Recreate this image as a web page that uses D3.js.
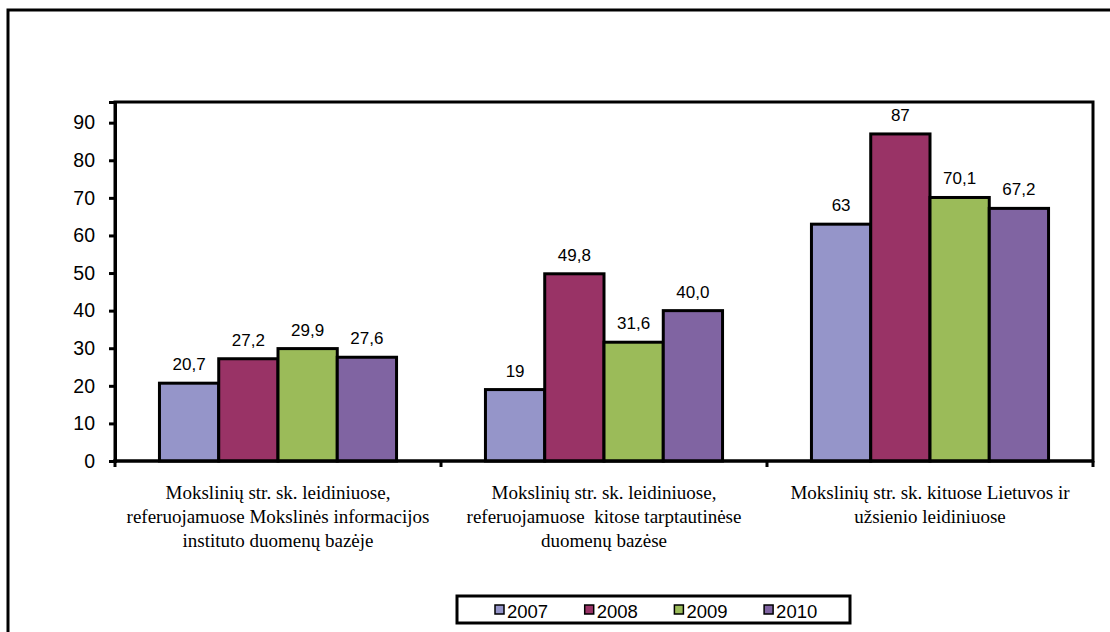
<!DOCTYPE html>
<html><head><meta charset="utf-8">
<script src="https://cdn.jsdelivr.net/npm/d3@7"></script>
<style>html,body{margin:0;padding:0;background:#fff;}svg{display:block;}</style>
</head><body>
<script>
const categories = [
  ["Mokslinių str. sk. leidiniuose,", "referuojamuose Mokslinės informacijos", "instituto duomenų bazėje"],
  ["Mokslinių str. sk. leidiniuose,", "referuojamuose  kitose tarptautinėse", "duomenų bazėse"],
  ["Mokslinių str. sk. kituose Lietuvos ir", "užsienio leidiniuose"]
];
const series = ["2007", "2008", "2009", "2010"];
const values2007 = [20.7, 19, 63];
const values2008 = [27.2, 49.8, 87];
const values2009 = [29.9, 31.6, 70.1];
const values2010 = [27.6, 40.0, 67.2];
const labels2007 = ["20,7", "19", "63"];
const labels2008 = ["27,2", "49,8", "87"];
const labels2009 = ["29,9", "31,6", "70,1"];
const labels2010 = ["27,6", "40,0", "67,2"];
const yTicks = [0, 10, 20, 30, 40, 50, 60, 70, 80, 90];
const colors = ["#9595C9", "#993366", "#9BBB59", "#8064A2"];

const W = 1110, H = 632;
const plot = {left: 115, right: 1093, top: 102, bottom: 461};
const svg = d3.select("body").append("svg").attr("width", W).attr("height", H);

// outer frame
svg.append("path").attr("d", `M8,${H} L8,10 L${W},10`).attr("fill", "none")
  .attr("stroke", "#000").attr("stroke-width", 3);

const x0 = d3.scaleBand().domain(d3.range(categories.length)).range([plot.left, plot.right]).paddingInner(0).paddingOuter(0);
const x1 = d3.scaleBand().domain(series).range([0, x0.bandwidth()]).paddingInner(0).paddingOuter(0.75);
const y = d3.scaleLinear().domain([0, 95.5]).range([plot.bottom, plot.top]);

// plot area frame
svg.append("rect").attr("x", plot.left).attr("y", plot.top)
  .attr("width", plot.right - plot.left).attr("height", plot.bottom - plot.top)
  .attr("fill", "#fff").attr("stroke", "#000").attr("stroke-width", 3);

const allVals = [values2007, values2008, values2009, values2010];
const allLabels = [labels2007, labels2008, labels2009, labels2010];

series.forEach((s, si) => {
  const g = svg.append("g");
  g.selectAll("rect").data(allVals[si]).enter().append("rect")
    .attr("x", (d, i) => x0(i) + x1(s))
    .attr("y", d => y(d))
    .attr("width", x1.bandwidth())
    .attr("height", d => y(0) - y(d))
    .attr("fill", colors[si]).attr("stroke", "#000").attr("stroke-width", 3);
  g.selectAll("text").data(allVals[si]).enter().append("text")
    .attr("x", (d, i) => x0(i) + x1(s) + x1.bandwidth() / 2)
    .attr("y", d => y(d) - 13)
    .attr("text-anchor", "middle")
    .attr("font-family", "Liberation Sans, Arial, sans-serif").attr("font-size", 17)
    .text((d, i) => allLabels[si][i]);
});

// Y axis
const yAxis = d3.axisLeft(y).tickValues(yTicks).tickSize(6).tickPadding(14).tickFormat(d3.format("d"));
const ya = svg.append("g").attr("transform", `translate(${plot.left},0)`).call(yAxis);
ya.select(".domain").attr("stroke", "#000").attr("stroke-width", 3);
ya.selectAll(".tick line").attr("stroke", "#000").attr("stroke-width", 3);
ya.selectAll(".tick text").attr("font-family", "Liberation Sans, Arial, sans-serif").attr("font-size", 19.5).attr("fill", "#000");

// X axis boundary ticks
const bounds = d3.range(categories.length + 1).map(i => i < categories.length ? x0(i) : plot.right);
svg.append("g").selectAll("line").data(bounds).enter().append("line")
  .attr("x1", d => d).attr("x2", d => d).attr("y1", plot.bottom).attr("y2", plot.bottom + 6)
  .attr("stroke", "#000").attr("stroke-width", 3);
svg.append("line").attr("x1", plot.left - 2).attr("x2", plot.right + 1).attr("y1", plot.bottom).attr("y2", plot.bottom)
  .attr("stroke", "#000").attr("stroke-width", 3);

// category labels
categories.forEach((lines, i) => {
  const t = svg.append("text").attr("text-anchor", "middle")
    .attr("font-family", "Liberation Serif, Times New Roman, serif").attr("font-size", 19);
  lines.forEach((ln, li) => {
    t.append("tspan").attr("x", x0(i) + x0.bandwidth() / 2).attr("y", 499 + li * 24)
      .attr("xml:space", "preserve").style("white-space", "pre").text(ln);
  });
});

// legend
const lg = svg.append("g");
lg.append("rect").attr("x", 457).attr("y", 596).attr("width", 393).attr("height", 27)
  .attr("fill", "#fff").attr("stroke", "#000").attr("stroke-width", 3);
series.forEach((s, si) => {
  const lx = 495 + si * 89.7;
  lg.append("rect").attr("x", lx).attr("y", 605).attr("width", 9).attr("height", 9)
    .attr("fill", colors[si]).attr("stroke", "#000").attr("stroke-width", 1.5);
  lg.append("text").attr("x", lx + 12).attr("y", 618)
    .attr("font-family", "Liberation Sans, Arial, sans-serif").attr("font-size", 18.5).text(s);
});
</script>
</body></html>
